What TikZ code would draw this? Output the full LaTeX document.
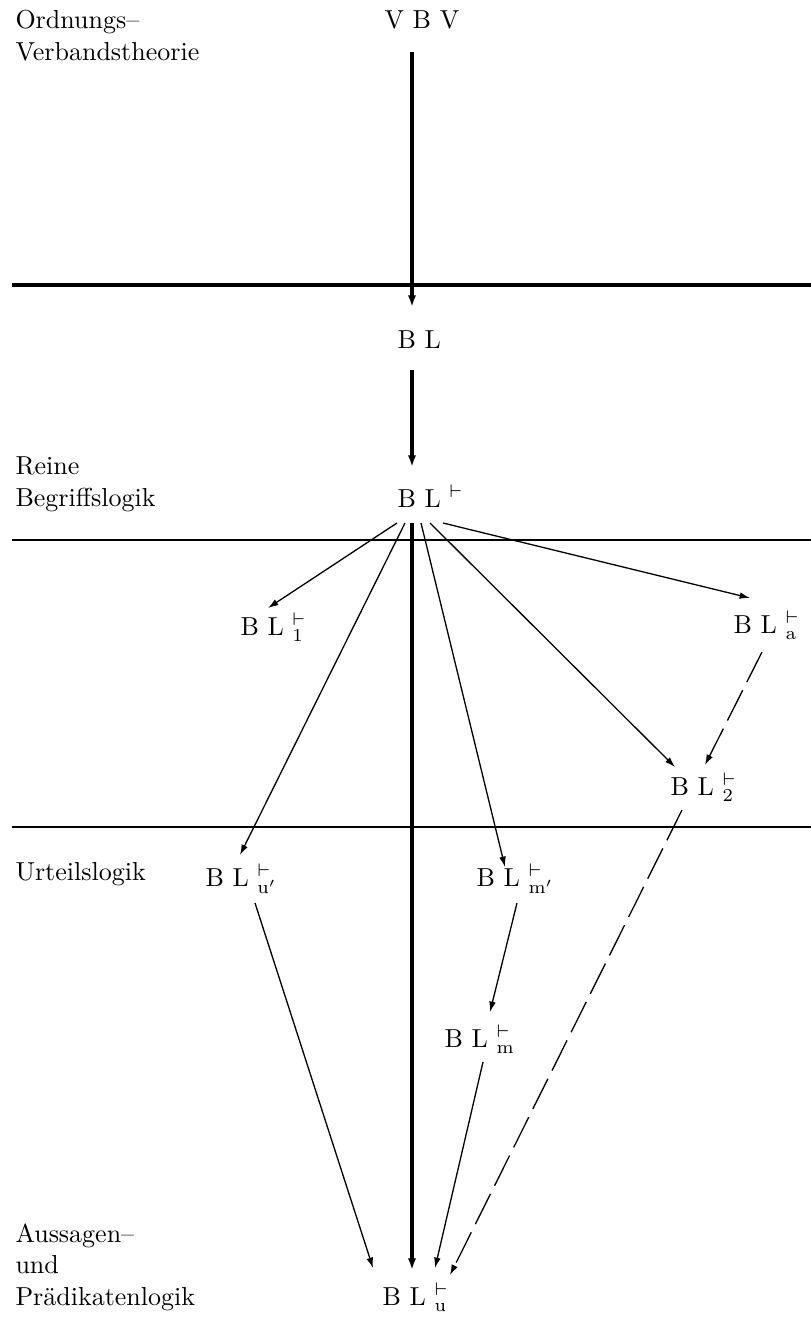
\documentclass[tikz,border=0pt]{standalone}
\usepackage{tikz}
\usetikzlibrary{arrows.meta}

\begin{document}
\begin{tikzpicture}[x=0.3846pt, y=-0.3846pt]

        % Stile
        \tikzset{
            lbl/.style={anchor=base west, inner sep=0pt, align=left},
            bln/.style={anchor=base west, inner sep=0pt},
            sep/.style={line width=0.8pt},
            axis/.style={line width=1.2pt, -{Latex[length=4.5pt,width=3.2pt]}},
            arr/.style={line width=0.5pt, -{Latex[length=4pt,width=2.6pt]}},
            darr/.style={arr, dash pattern=on 13pt off 3.5pt}
        }
        \useasboundingbox (0,0) rectangle (811,1319);

        % --- BEREICHE (links), Anker an der letzten Zeile ---
        \node[lbl] (ord) at (15,60) {Ordnungs--\\Verbandstheorie};
        \node[lbl] (rein) at (15,506) {Reine\\Begriffslogik};
        \node[lbl] (urt) at (15,880) {Urteilslogik};
        \node[lbl] (auss) at (15,1305) {Aussagen--\\und\\Prädikatenlogik};

        % --- TRENNLINIEN ---
        \draw[line width=1.2pt] (12,285) -- (811,285);
        \draw[sep] (12,540) -- (811,540);
        \draw[sep] (12,827) -- (811,827);

        % --- KALKÜLE ---
        \node[bln] (vbv) at (384,28) {V B V};
        \node[bln] (bl) at (397,348) {B L};
        \node[bln] (blt) at (397,507) {B L $^{\vdash}$};
        \node[bln] (bl1) at (240,635) {B L $^{\vdash}_{1}$};
        \node[bln] (bla) at (733,633) {B L $^{\vdash}_{\mathrm{a}}$};
        \node[bln] (bl2) at (670,795) {B L $^{\vdash}_{2}$};
        \node[bln] (blup) at (205,886) {B L $^{\vdash}_{\mathrm{u}'}$};
        \node[bln] (blmp) at (476,886) {B L $^{\vdash}_{\mathrm{m}'}$};
        \node[bln] (blm) at (444,1047) {B L $^{\vdash}_{\mathrm{m}}$};
        \node[bln] (blu) at (382,1305) {B L $^{\vdash}_{\mathrm{u}}$};

        % --- HAUPTACHSE ---
        \draw[axis] ([shift={(28,24)}]vbv.base west) -- ([shift={(15,-41)}]bl.base west);
        \draw[axis] ([shift={(15,22)}]bl.base west) -- ([shift={(15,-40)}]blt.base west);
        \draw[axis] ([shift={(15,16)}]blt.base west) -- ([shift={(30,-35)}]blu.base west);

        % --- FÄCHER AUS B L ---
        \draw[arr] ([shift={(0,16)}]blt.base west) -- ([shift={(28,-27)}]bl1.base west);
        \draw[arr] ([shift={(8,16)}]blt.base west) -- ([shift={(35,-31)}]blup.base west);
        \draw[arr] ([shift={(24,16)}]blt.base west) -- ([shift={(29,-19)}]blmp.base west);
        \draw[arr] ([shift={(33,16)}]blt.base west) -- ([shift={(5,-28)}]bl2.base west);
        \draw[arr] ([shift={(46,16)}]blt.base west) -- ([shift={(17,-35)}]bla.base west);

        % --- WEITERE ÜBERGÄNGE ---
        \draw[darr] ([shift={(29,19)}]bla.base west) -- ([shift={(35,-30)}]bl2.base west);
        \draw[darr] ([shift={(12,15)}]bl2.base west) -- ([shift={(68,-30)}]blu.base west);
        \draw[arr] ([shift={(50,17)}]blup.base west) -- ([shift={(-9,-37)}]blu.base west);
        \draw[arr] ([shift={(41,17)}]blmp.base west) -- ([shift={(46,-35)}]blm.base west);
        \draw[arr] ([shift={(39,15)}]blm.base west) -- ([shift={(53,-37)}]blu.base west);

\end{tikzpicture}
\end{document}
